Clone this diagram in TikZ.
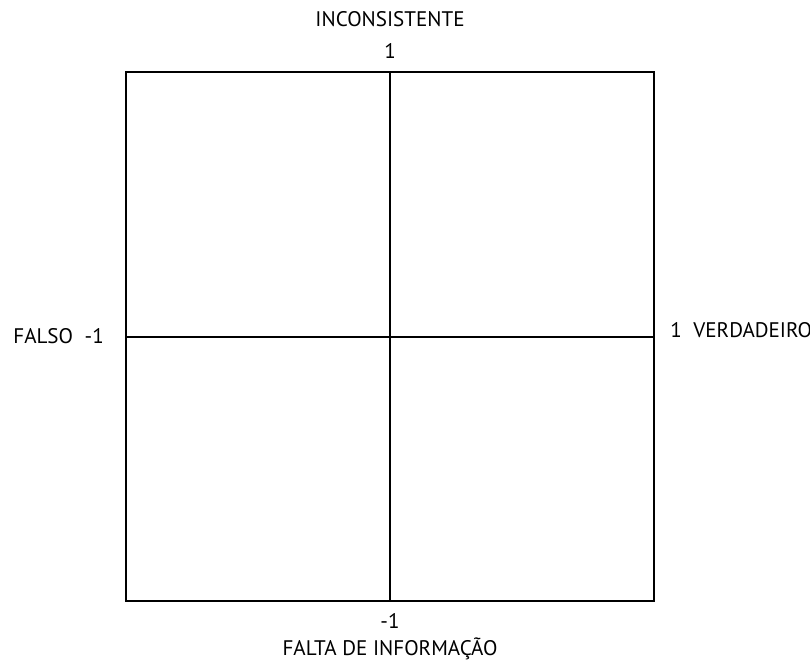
\documentclass[tikz,border=0pt]{standalone}
\usepackage{fontspec}
\setmainfont{PT Sans}
\tikzset{
  lbl/.style={inner sep=0pt,font=\fontsize{12}{14}\selectfont},
  axis/.style={line width=1pt}
}
\begin{document}
\begin{tikzpicture}[x=0.02cm,y=-0.02cm]
        \useasboundingbox (0,0) rectangle (810,668);
        %% Square
        \coordinate (NW) at (126,72);
        \coordinate (SE) at (654,601);
        \draw[axis] (NW) rectangle (SE);
        %% Axes
        \coordinate (T) at (390,72);
        \coordinate (B) at (390,601);
        \coordinate (L) at (126,337);
        \coordinate (R) at (654,337);
        \draw[axis] (T) -- (B);
        \draw[axis] (L) -- (R);
        %% Labels
        \node[lbl] (top) at (390,19) {INCONSISTENTE};
        \node[lbl] (one) at (390,51) {1};
        \node[lbl] (mone) at (390,621) {-1};
        \node[lbl] (bot) at (390,649) {FALTA DE INFORMAÇÃO};
        \node[lbl,anchor=west] (left) at (13,336) {FALSO\hspace{0.55em}-1};
        \node[lbl,anchor=west] (right) at (670,330) {1\hspace{0.55em}VERDADEIRO};
\end{tikzpicture}
\end{document}
